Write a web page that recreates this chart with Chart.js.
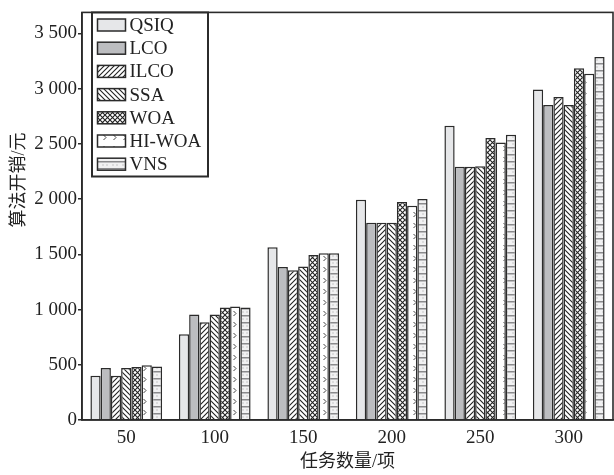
<!DOCTYPE html>
<html>
<head>
<meta charset="utf-8">
<script src="https://cdn.jsdelivr.net/npm/chart.js@4.4.0/dist/chart.umd.min.js"></script>
<style>
  html, body { margin: 0; padding: 0; background: #fff; }
  #wrap { width: 614px; height: 475px; }
</style>
</head>
<body>
<div id="wrap"><canvas id="chart" width="614" height="475"></canvas></div>
<script>
// task counts on the x axis
const categories = ["50", "100", "150", "200", "250", "300"];
const seriesNames = ["QSIQ", "LCO", "ILCO", "SSA", "WOA", "HI-WOA", "VNS"];

// algorithm cost (yuan)
const qsiq  = [400, 777, 1563, 1994, 2664, 2992];
const lco   = [470, 955, 1384, 1786, 2292, 2852];
const ilco  = [400, 884, 1355, 1786, 2292, 2923];
const ssa   = [470, 955, 1390, 1786, 2298, 2852];
const woa   = [480, 1018, 1494, 1973, 2554, 3185];
const hiwoa = [495, 1027, 1509, 1940, 2512, 3134];
const vns   = [485, 1018, 1509, 2000, 2583, 3286];

const yTicks = [0, 500, 1000, 1500, 2000, 2500, 3000, 3500];
const yTitle = "算法开销/元";

const INK = "#2b2b2b";
const FONT = "'Liberation Serif', 'Noto Sans CJK SC', serif";

function makePattern(w, h, draw) {
  const c = document.createElement("canvas");
  c.width = w;
  c.height = h;
  const g = c.getContext("2d");
  draw(g, w, h);
  return g.createPattern(c, "repeat");
}

// fills: plain greys, hatches, cross hatch, marks, striped
const fills = [
  "#e6e7e9",
  "#bcbdc0",
  makePattern(5, 5, (g, w, h) => {
    g.fillStyle = "#fff"; g.fillRect(0, 0, w, h);
    g.strokeStyle = "#222"; g.lineWidth = 1.1;
    g.beginPath();
    g.moveTo(-1, h + 1); g.lineTo(w + 1, -1);
    g.moveTo(-1, 1); g.lineTo(1, -1);
    g.moveTo(w - 1, h + 1); g.lineTo(w + 1, h - 1);
    g.stroke();
  }),
  makePattern(5, 5, (g, w, h) => {
    g.fillStyle = "#fff"; g.fillRect(0, 0, w, h);
    g.strokeStyle = "#222"; g.lineWidth = 1.1;
    g.beginPath();
    g.moveTo(-1, -1); g.lineTo(w + 1, h + 1);
    g.moveTo(w - 1, -1); g.lineTo(w + 1, 1);
    g.moveTo(-1, h - 1); g.lineTo(1, h + 1);
    g.stroke();
  }),
  makePattern(5, 5, (g, w, h) => {
    g.fillStyle = "#fff"; g.fillRect(0, 0, w, h);
    g.strokeStyle = "#222"; g.lineWidth = 1.1;
    g.beginPath();
    g.moveTo(-1, -1); g.lineTo(w + 1, h + 1);
    g.moveTo(-1, h + 1); g.lineTo(w + 1, -1);
    g.stroke();
  }),
  makePattern(10, 11, (g, w, h) => {
    g.fillStyle = "#fff"; g.fillRect(0, 0, w, h);
    g.strokeStyle = "#444"; g.lineWidth = 1;
    g.beginPath();
    g.moveTo(3.5, 3); g.lineTo(6, 5.5); g.lineTo(3.5, 8);
    g.stroke();
  }),
  makePattern(10, 7, (g, w, h) => {
    g.fillStyle = "#f1f1f2"; g.fillRect(0, 0, w, h);
    g.fillStyle = "#8a8a8c"; g.fillRect(0, 0, w, 1.5);
    g.fillStyle = "#9a9a9c";
    g.fillRect(2.5, 3.5, 1, 1);
    g.fillRect(6.5, 3.5, 1, 1);
  }),
];

const values = [qsiq, lco, ilco, ssa, woa, hiwoa, vns];

const datasets = seriesNames.map((name, i) => ({
  label: name,
  data: values[i],
  backgroundColor: fills[i],
  borderColor: INK,
  borderWidth: 1.5,
  borderSkipped: "bottom",
  categoryPercentage: 0.81,
  barPercentage: 1.0,
}));

// frame on top and right of the plot, plus the y title (sits above centre in the original)
const framePlugin = {
  id: "frame",
  afterDraw(chart) {
    const { ctx, chartArea: a } = chart;
    ctx.save();
    ctx.strokeStyle = INK;
    ctx.lineWidth = 1.6;
    ctx.strokeRect(a.left, a.top, a.right - a.left, a.bottom - a.top);
    ctx.translate(19, 180);
    ctx.rotate(-Math.PI / 2);
    ctx.font = "18px " + FONT;
    ctx.fillStyle = "#222";
    ctx.textAlign = "center";
    ctx.textBaseline = "middle";
    ctx.fillText(yTitle, 0, 0);
    ctx.restore();
  },
};

// boxed legend inside the plot, top left
const boxLegend = {
  id: "boxLegend",
  afterDraw(chart) {
    const { ctx } = chart;
    const x0 = 92, y0 = 12.5, w = 116, h = 164;
    const rowH = 23.2;
    ctx.save();
    ctx.fillStyle = "#fff";
    ctx.fillRect(x0, y0, w, h);
    ctx.strokeStyle = INK;
    ctx.lineWidth = 2;
    ctx.strokeRect(x0, y0, w, h);
    ctx.font = "19px " + FONT;
    ctx.textBaseline = "middle";
    chart.data.datasets.forEach((ds, i) => {
      const cy = 25 + i * rowH;
      ctx.fillStyle = ds.backgroundColor;
      ctx.fillRect(97.5, cy - 6, 28, 12);
      ctx.lineWidth = 1.5;
      ctx.strokeStyle = INK;
      ctx.strokeRect(97.5, cy - 6, 28, 12);
      ctx.fillStyle = "#222";
      ctx.fillText(ds.label, 129.5, cy + 1);
    });
    ctx.restore();
  },
};

new Chart(document.getElementById("chart").getContext("2d"), {
  type: "bar",
  data: { labels: categories, datasets: datasets },
  options: {
    responsive: false,
    animation: false,
    layout: { padding: { top: 7, right: 1, left: 0, bottom: 0 } },
    plugins: {
      legend: { display: false },
      tooltip: { enabled: false },
    },
    scales: {
      x: {
        grid: { display: false, drawTicks: false },
        border: { display: true, color: INK, width: 1.6 },
        ticks: {
          color: "#222",
          padding: 7,
          font: { family: FONT, size: 19 },
        },
        title: {
          display: true,
          text: "任务数量/项",
          color: "#222",
          padding: { top: 0, bottom: 2 },
          font: { family: FONT, size: 18 },
        },
        afterFit(scale) { scale.height = 55; },
      },
      y: {
        min: 0,
        max: 3690,
        grid: {
          display: true,
          drawOnChartArea: false,
          drawTicks: true,
          tickLength: 4,
          color: INK,
          lineWidth: 1.5,
        },
        border: { display: true, color: INK, width: 1.6 },
        afterBuildTicks(scale) {
          scale.ticks = yTicks.map((v) => ({ value: v }));
        },
        ticks: {
          color: "#222",
          padding: 1,
          font: { family: FONT, size: 19 },
          callback: (v) => String(v).replace(/\B(?=(\d{3})+(?!\d))/g, " "),
        },
        afterFit(scale) { scale.width = 82; },
      },
    },
  },
  plugins: [framePlugin, boxLegend],
});
</script>
</body>
</html>
